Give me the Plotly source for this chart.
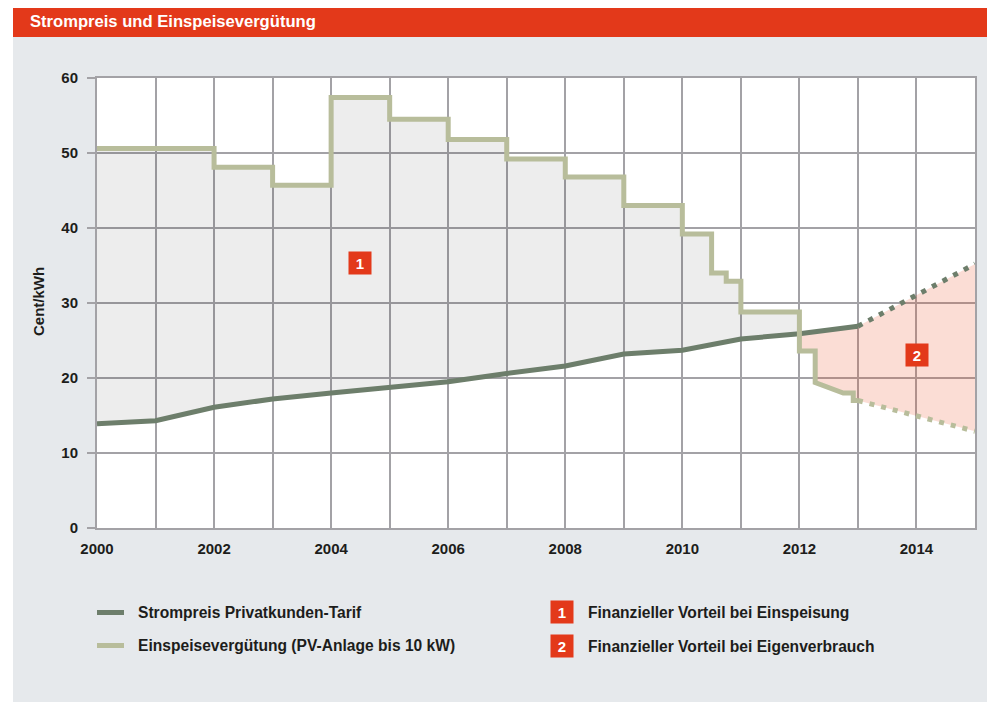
import plotly.graph_objects as go

# ---------------- data ----------------
price_years = [2000, 2001, 2002, 2003, 2004, 2005, 2006, 2007, 2008, 2009, 2010, 2011, 2012, 2013]
price_values = [13.9, 14.3, 16.1, 17.2, 18.0, 18.7, 19.5, 20.6, 21.6, 23.2, 23.7, 25.2, 25.9, 26.9]

# feed-in tariff: step changes (value valid from date on)
tariff_dates = [2000, 2002, 2003, 2004, 2005, 2006, 2007, 2008, 2009, 2010, 2010.5, 2010.75, 2011, 2012, 2012.27]
tariff_values = [50.6, 48.1, 45.7, 57.4, 54.5, 51.8, 49.2, 46.8, 43.0, 39.2, 34.0, 32.9, 28.8, 23.6, 19.4]
# monthly degression 2012 (drawn as a slope)
degr_dates = [2012.27, 2012.75]
degr_values = [19.4, 18.0]
# late 2012 steps
late_dates = [2012.75, 2012.92, 2013.0]
late_values = [18.0, 17.0, 17.0]

# projections
proj_years = [2013, 2015]
price_proj = [26.9, 35.2]
tariff_proj = [17.0, 12.9]

x_tick_vals = list(range(2000, 2016))
x_tick_labels = ["2000", "", "2002", "", "2004", "", "2006", "", "2008", "", "2010", "", "2012", "", "2014", ""]
y_tick_vals = [0, 10, 20, 30, 40, 50, 60]

title_text = "Strompreis und Einspeisevergütung"
legend_lines = ["Strompreis Privatkunden-Tarif", "Einspeisevergütung (PV-Anlage bis 10 kW)"]
legend_boxes = ["Finanzieller Vorteil bei Einspeisung", "Finanzieller Vorteil bei Eigenverbrauch"]

# ---------------- styles ----------------
RED = "#e3391a"
PANEL = "#e6e9ec"
PRICE_C = "#6d7e6b"
FEED_C = "#b8bd9b"
GRID_C = "#a3a2a6"
TXT = "#1d1d1b"
FONT = "Liberation Sans"


def step_path(xs, ys, x_end):
    px, py = [], []
    for i, (x, y) in enumerate(zip(xs, ys)):
        if i > 0:
            px.append(x)
            py.append(ys[i - 1])
        px.append(x)
        py.append(y)
    px.append(x_end)
    py.append(ys[-1])
    return px, py


# full solid feed-in path
fx1, fy1 = step_path(tariff_dates, tariff_values, tariff_dates[-1])
fx1, fy1 = fx1[:-1], fy1[:-1]
fx3, fy3 = step_path(late_dates[:-1], late_values[:-1], late_dates[-1])
feed_x = fx1 + degr_dates[1:] + fx3[1:]
feed_y = fy1 + degr_values[1:] + fy3[1:]

# region 1 polygon: feed-in above price, 2000 .. 2012
i12 = tariff_dates.index(2012)
g_x, g_y = step_path(tariff_dates[:i12], tariff_values[:i12], 2012)
p12 = price_years.index(2012)
g_x = g_x + price_years[:p12 + 1][::-1]
g_y = g_y + price_values[:p12 + 1][::-1]

# region 2 polygon: price above feed-in, 2012 .. 2015
k = feed_x.index(2012)
feed_after_x = feed_x[k + 1:]  # starts at (2012, 23.6)
feed_after_y = feed_y[k + 1:]
r_x = price_years[p12:] + proj_years[1:] + proj_years[::-1][:1] + feed_after_x[::-1]
r_y = price_values[p12:] + price_proj[1:] + tariff_proj[::-1][:1] + feed_after_y[::-1]

fig = go.Figure()

fig.add_trace(go.Scatter(x=g_x, y=g_y, mode="lines", fill="toself",
                         fillcolor="rgba(0,0,0,0.07)", line=dict(width=0),
                         hoverinfo="skip", showlegend=False))
fig.add_trace(go.Scatter(x=r_x, y=r_y, mode="lines", fill="toself",
                         fillcolor="rgba(232,72,30,0.19)", line=dict(width=0),
                         hoverinfo="skip", showlegend=False))

fig.add_trace(go.Scatter(x=price_years, y=price_values, mode="lines",
                         line=dict(color=PRICE_C, width=5), showlegend=False))
fig.add_trace(go.Scatter(x=proj_years, y=price_proj, mode="lines",
                         line=dict(color=PRICE_C, width=5, dash="5px,7px"), showlegend=False))
fig.add_trace(go.Scatter(x=feed_x, y=feed_y, mode="lines",
                         line=dict(color=FEED_C, width=5), showlegend=False))
fig.add_trace(go.Scatter(x=proj_years, y=tariff_proj, mode="lines",
                         line=dict(color=FEED_C, width=5, dash="5px,7px"), showlegend=False))

# ---------------- layout geometry ----------------
# the page body has an 8px margin; page coordinates are converted accordingly
OFF = 8
W, H = 995 - OFF, 702 - OFF
PL, PT, PR, PB = 97, 78, 975, 528          # plot area in page pixels
L, T = PL - OFF, PT - OFF
R, B = W - (PR - OFF), H - (PB - OFF)
PW, PH = PR - PL, PB - PT


def px2x(px):
    return (px - PL) / PW


def py2y(py):
    return (PB - py) / PH


shapes = [
    dict(type="rect", xref="paper", yref="paper", x0=px2x(13), x1=px2x(1010),
         y0=py2y(37), y1=py2y(720), fillcolor=PANEL, line=dict(width=0), layer="below"),
    dict(type="rect", xref="paper", yref="paper", x0=px2x(13), x1=px2x(1010),
         y0=py2y(6), y1=py2y(37), fillcolor=RED, line=dict(width=0), layer="below"),
    dict(type="rect", xref="paper", yref="paper", x0=0, x1=1, y0=0, y1=1,
         fillcolor="white", line=dict(width=0), layer="below"),
    dict(type="line", xref="paper", yref="paper", x0=px2x(97), x1=px2x(124),
         y0=py2y(612.5), y1=py2y(612.5), line=dict(color=PRICE_C, width=5)),
    dict(type="line", xref="paper", yref="paper", x0=px2x(97), x1=px2x(124),
         y0=py2y(645.5), y1=py2y(645.5), line=dict(color=FEED_C, width=5)),
]

annotations = [
    dict(text="<b>" + title_text + "</b>", xref="paper", yref="paper",
         x=px2x(28), y=py2y(21.5), xanchor="left", yanchor="middle", showarrow=False,
         font=dict(family=FONT, size=16.6, color="white")),
    dict(text="<b>Cent/kWh</b>", xref="paper", yref="paper", x=px2x(38), y=py2y(302),
         xanchor="center", yanchor="middle", textangle=-90, showarrow=False,
         font=dict(family=FONT, size=15, color=TXT)),
    dict(text="<b>1</b>", x=2004.49, y=35.3, xref="x", yref="y", showarrow=False,
         bgcolor=RED, width=22, height=22, borderpad=0,
         font=dict(family=FONT, size=15, color="white")),
    dict(text="<b>2</b>", x=2014.01, y=23.1, xref="x", yref="y", showarrow=False,
         bgcolor=RED, width=22, height=22, borderpad=0,
         font=dict(family=FONT, size=15, color="white")),
]
for i, (txt, py) in enumerate(zip(legend_lines, [612.5, 645.5])):
    annotations.append(dict(text="<b>" + txt + "</b>", xref="paper", yref="paper",
                            x=px2x(136), y=py2y(py), xanchor="left", yanchor="middle",
                            showarrow=False, font=dict(family=FONT, size=15.6, color=TXT)))
for i, (txt, py) in enumerate(zip(legend_boxes, [612, 646])):
    annotations.append(dict(text="<b>%d</b>" % (i + 1), xref="paper", yref="paper",
                            x=px2x(562), y=py2y(py), xanchor="center", yanchor="middle",
                            showarrow=False, bgcolor=RED, width=22, height=22, borderpad=0,
                            font=dict(family=FONT, size=15, color="white")))
    annotations.append(dict(text="<b>" + txt + "</b>", xref="paper", yref="paper",
                            x=px2x(586), y=py2y(py), xanchor="left", yanchor="middle",
                            showarrow=False, font=dict(family=FONT, size=15.6, color=TXT)))

fig.update_layout(
    width=W, height=H,
    margin=dict(l=L, r=R, t=T, b=B, pad=0),
    paper_bgcolor="white", plot_bgcolor="white",
    font=dict(family=FONT, color=TXT),
    shapes=shapes, annotations=annotations,
    showlegend=False,
    xaxis=dict(range=[2000, 2015], tickvals=x_tick_vals, ticktext=x_tick_labels,
               showgrid=True, gridcolor=GRID_C, gridwidth=2, zeroline=False,
               showline=True, linecolor=GRID_C, linewidth=2, mirror=True,
               ticks="", ticklabelstandoff=6,
               tickfont=dict(family=FONT, size=15, color=TXT, weight="bold")),
    yaxis=dict(range=[0, 60], tickvals=y_tick_vals,
               showgrid=True, gridcolor=GRID_C, gridwidth=2, zeroline=False,
               showline=True, linecolor=GRID_C, linewidth=2, mirror=True,
               ticks="outside", ticklen=8, tickwidth=2, tickcolor=GRID_C,
               ticklabelstandoff=6,
               tickfont=dict(family=FONT, size=15, color=TXT, weight="bold")),
)

fig.write_html("out.html")
